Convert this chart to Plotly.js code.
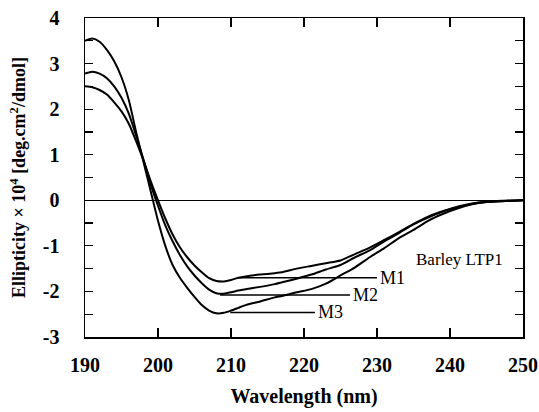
<!DOCTYPE html>
<html>
<head>
<meta charset="utf-8">
<script src="https://cdn.plot.ly/plotly-3.0.1.min.js"></script>
<style>html,body{margin:0;padding:0;background:#fff;}#chart{width:539px;height:412px;}</style>
</head>
<body>
<div id="chart"></div>
<script>
// Wavelength grid (nm)
const wavelength = [190,191,192,193,194,195,196,197,198,199,200,201,202,203,204,205,206,207,208,209,210,211,212,214,216,217,219,221,223,225,227,229,231,233,235,237,239,241,243,245,247,250];

// Ellipticity x 10^4 [deg.cm2/dmol]
const m1 = [2.50,2.48,2.42,2.32,2.15,1.95,1.68,1.30,0.88,0.42,0.00,-0.40,-0.75,-1.03,-1.25,-1.43,-1.58,-1.71,-1.77,-1.78,-1.75,-1.70,-1.67,-1.63,-1.60,-1.58,-1.50,-1.44,-1.38,-1.32,-1.18,-1.04,-0.87,-0.70,-0.52,-0.36,-0.24,-0.14,-0.07,-0.03,-0.01,0.00];
const m2 = [2.78,2.82,2.78,2.68,2.50,2.25,1.90,1.42,0.90,0.35,-0.12,-0.55,-0.90,-1.20,-1.45,-1.65,-1.82,-1.96,-2.04,-2.05,-2.02,-1.98,-1.95,-1.90,-1.84,-1.80,-1.72,-1.63,-1.52,-1.42,-1.25,-1.10,-0.90,-0.72,-0.53,-0.38,-0.25,-0.15,-0.08,-0.04,-0.02,0.00];
const m3 = [3.50,3.55,3.48,3.30,3.05,2.70,2.20,1.50,0.85,0.20,-0.45,-1.00,-1.42,-1.70,-1.92,-2.12,-2.30,-2.42,-2.48,-2.47,-2.42,-2.36,-2.30,-2.22,-2.13,-2.10,-2.02,-1.95,-1.83,-1.65,-1.47,-1.25,-1.05,-0.83,-0.65,-0.45,-0.30,-0.18,-0.09,-0.04,-0.02,0.00];

// Label leader lines
const labelNames = ["M1","M2","M3"];
const labelStart = [211.0,208.5,209.9];
const labelEnd   = [230.0,226.3,221.5];
const labelLevel = [-1.70,-2.08,-2.46];
const sampleLabel = "Barley LTP1";

const xTicks = [190,200,210,220,230,240,250];
const yTicks = [-3,-2,-1,0,1,2,3,4];

const serif = "'Liberation Serif', 'DejaVu Serif', serif";
const series = [m1, m2, m3];

const traces = series.map((ys, i) => ({
  x: wavelength, y: ys, type: "scatter", mode: "lines",
  line: {color: "#000", width: 2, shape: "spline", smoothing: 0.6},
  hoverinfo: "skip", showlegend: false, name: labelNames[i]
}));
labelNames.forEach((n, i) => {
  traces.push({
    x: [labelStart[i], labelEnd[i]], y: [labelLevel[i], labelLevel[i]],
    type: "scatter", mode: "lines", line: {color: "#000", width: 1.5},
    hoverinfo: "skip", showlegend: false
  });
});

const annotations = labelNames.map((n, i) => ({
  x: labelEnd[i], y: labelLevel[i], xref: "x", yref: "y", text: n,
  showarrow: false, xanchor: "left", yanchor: "middle", xshift: 1,
  font: {family: serif, size: 18, color: "#000"}
}));
annotations.push({
  x: 235.0, y: -1.3, xref: "x", yref: "y", text: sampleLabel, showarrow: false,
  xanchor: "left", yanchor: "middle",
  font: {family: serif, size: 17, color: "#000"}
});

const layout = {
  width: 539, height: 412,
  margin: {l: 85, r: 16, t: 18, b: 75},
  paper_bgcolor: "#fff", plot_bgcolor: "#fff",
  showlegend: false,
  xaxis: {
    range: [190, 250], tickvals: xTicks, ticktext: xTicks.map(String),
    ticks: "inside", ticklen: 9, tickwidth: 1.2, tickcolor: "#000",
    showline: true, linecolor: "#000", linewidth: 1.5, mirror: "ticks",
    showgrid: false, zeroline: false, ticklabelstandoff: 9,
    tickfont: {family: serif, size: 20, color: "#000", weight: "bold"},
    title: {text: "<b>Wavelength (nm)</b>", font: {family: serif, size: 20, color: "#000"}, standoff: 14}
  },
  yaxis: {
    range: [-3, 4], tickvals: yTicks, ticktext: yTicks.map(String),
    ticks: "inside", ticklen: 8, tickwidth: 1.2, tickcolor: "#000",
    minor: {dtick: 0.5, ticks: "inside", ticklen: 8, tickwidth: 1.2, tickcolor: "#000"},
    showline: true, linecolor: "#000", linewidth: 1.5, mirror: "ticks",
    showgrid: false, zeroline: true, zerolinecolor: "#000", zerolinewidth: 1.2,
    ticklabelstandoff: 20,
    tickfont: {family: serif, size: 20, color: "#000", weight: "bold"},
    title: {text: "<b>Ellipticity × 10<sup>4</sup> [deg.cm<sup>2</sup>/dmol]</b>", font: {family: serif, size: 18, color: "#000"}, standoff: 12}
  },
  annotations: annotations
};

Plotly.newPlot("chart", traces, layout, {displayModeBar: false, staticPlot: true});
</script>
</body>
</html>
